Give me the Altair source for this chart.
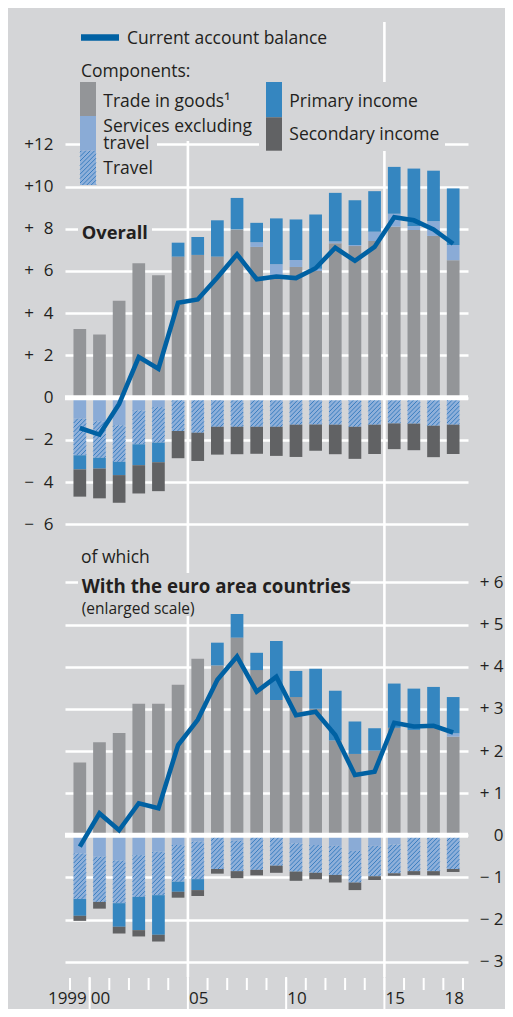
import altair as alt
import numpy as np
import pandas as pd

# ---------------- data (percent of GDP) ----------------
years = list(range(1999, 2019))

# Overall
goods_all = [3.25, 2.99, 4.59, 6.37, 5.80, 6.68, 6.76, 6.68, 7.97, 7.14,
             5.69, 6.19, 6.00, 7.31, 7.18, 7.42, 8.10, 7.94, 7.66, 6.51]
services_all = [-1.00, -1.12, -1.31, -0.61, -0.45, 0.0, 0.0, 0.0, 0.0, 0.22,
                0.63, 0.33, 0.10, 0.09, 0.05, 0.44, 0.61, 0.19, 0.70, 0.72]
travel_all = [-1.73, -1.73, -1.73, -1.60, -1.68, -1.58, -1.66, -1.38, -1.38, -1.38,
              -1.38, -1.28, -1.27, -1.28, -1.38, -1.28, -1.22, -1.23, -1.33, -1.28]
primary_all = [-0.67, -0.51, -0.63, -0.99, -0.93, 0.66, 0.85, 1.72, 1.49, 0.92,
               2.17, 1.92, 2.58, 2.30, 2.12, 1.92, 2.22, 2.72, 2.39, 2.68]
secondary_all = [-1.29, -1.41, -1.31, -1.34, -1.37, -1.29, -1.34, -1.32, -1.30, -1.28,
                 -1.38, -1.53, -1.25, -1.40, -1.52, -1.39, -1.22, -1.26, -1.49, -1.39]
balance_all = [-1.44, -1.75, -0.30, 1.92, 1.37, 4.49, 4.65, 5.69, 6.79, 5.61,
               5.74, 5.66, 6.13, 7.10, 6.48, 7.14, 8.55, 8.40, 7.97, 7.29]

# With the euro area countries
goods_ea = [1.73, 2.21, 2.43, 3.12, 3.12, 3.57, 4.19, 4.03, 4.69, 3.92,
            3.21, 3.28, 3.00, 2.25, 1.93, 2.01, 2.55, 2.50, 2.55, 2.34]
services_ea = [-0.43, -0.51, -0.60, -0.47, -0.39, -0.23, -0.15, 0.0, -0.13, 0.0,
               0.0, -0.19, -0.23, -0.25, -0.37, -0.25, -0.22, 0.0, 0.0, 0.08]
travel_ea = [-1.08, -1.07, -1.01, -0.99, -1.03, -0.87, -0.89, -0.80, -0.72, -0.82,
             -0.72, -0.67, -0.66, -0.69, -0.75, -0.72, -0.68, -0.85, -0.85, -0.80]
primary_ea = [-0.40, 0.0, -0.56, -0.79, -0.94, -0.24, -0.26, 0.54, 0.56, 0.41,
              1.40, 0.62, 0.95, 1.18, 0.77, 0.53, 1.05, 0.98, 0.97, 0.86]
secondary_ea = [-0.12, -0.16, -0.16, -0.15, -0.16, -0.14, -0.14, -0.11, -0.17, -0.13,
                -0.17, -0.22, -0.15, -0.18, -0.18, -0.09, -0.06, -0.09, -0.10, -0.07]
balance_ea = [-0.27, 0.52, 0.12, 0.76, 0.64, 2.14, 2.74, 3.69, 4.24, 3.41,
              3.76, 2.85, 2.93, 2.38, 1.43, 1.51, 2.67, 2.58, 2.60, 2.44]

label_years = [1999, 2000, 2005, 2010, 2015, 2018]
label_text = ["1999", "00", "05", "10", "15", "18"]
long_tick_years = [2000, 2005, 2010, 2015]
grid_years = [2005, 2015]

comp_keys = ["goods", "services", "travel", "primary", "secondary"]

# ---------------- style ----------------
FONT = "Open Sans"
BG = "#d4d5d7"
TXT = "#231f20"
GOODS = "#939598"
SERV = "#8aabd6"
TRAVEL_BG = "#8fb0da"
HATCH = "#3a7ec0"
PRIMARY = "#3586c0"
SECOND = "#616264"
LINE = "#0061a3"
comp_colors = [GOODS, SERV, TRAVEL_BG, PRIMARY, SECOND]

W, H = 403, 955
X_DOMAIN = [years[0] - 0.5, years[-1] + 0.5]
UP_DOMAIN, UP_RANGE = [-6, 12], [502.3, 122.3]
LO_DOMAIN, LO_RANGE = [-3, 6], [939.75, 560.4]
BAR_W = 12.7
HATCH_STEP = 4.4

SX = W / (X_DOMAIN[1] - X_DOMAIN[0])


def px_x(v):
    return (v - X_DOMAIN[0]) * SX


def inv_x(p):
    return X_DOMAIN[0] + p / SX


def y_maps(domain, rng):
    k = (rng[0] - rng[1]) / (domain[1] - domain[0])
    return (lambda v: rng[1] + (domain[1] - v) * k), (lambda p: domain[1] - (p - rng[1]) / k)


def hatch_segments(xl, xr, yt, yb, step=HATCH_STEP):
    segs = []
    c = np.floor((xl + yt) / step) * step
    while c < xr + yb:
        xs = max(xl, c - yb)
        xe = min(xr, c - yt)
        if xe - xs > 0.2:
            segs.append((xs, c - xs, xe, c - xe))
        c += step
    return segs


def stack(values):
    rows = []
    for i, yr in enumerate(years):
        pos = neg = 0.0
        for key, arr in zip(comp_keys, values):
            v = arr[i]
            if v == 0:
                continue
            if v > 0:
                y0, y1 = pos, pos + v
                pos = y1
            else:
                y0, y1 = neg, neg + v
                neg = y1
            rows.append(dict(year=yr, comp=key, y0=y0, y1=y1))
    return pd.DataFrame(rows)


def hatch_df(sdf, domain, rng):
    to_px, to_v = y_maps(domain, rng)
    rows = []
    for _, r in sdf[sdf.comp == "travel"].iterrows():
        xl = px_x(r.year) - BAR_W / 2
        xr = xl + BAR_W
        yt = to_px(max(r.y0, r.y1))
        yb = to_px(min(r.y0, r.y1))
        for xs, ys, xe, ye in hatch_segments(xl, xr, yt, yb):
            rows.append(dict(hx0=inv_x(xs), hy0=to_v(ys), hx1=inv_x(xe), hy1=to_v(ye)))
    return pd.DataFrame(rows)


one = pd.DataFrame({"k": [0]})
xscale = alt.Scale(domain=X_DOMAIN, nice=False, zero=False)


def rect(x1, y1, x2, y2, color):
    return alt.Chart(one).mark_rect(color=color).encode(
        x=alt.value(x1), x2=alt.value(x2), y=alt.value(y1), y2=alt.value(y2))


def text(x, y, s, size=17.5, weight="normal", color=TXT, line_height=None):
    kw = dict(text=s, align="left", baseline="alphabetic", fontSize=size,
              fontWeight=weight, font=FONT, color=color)
    if line_height is not None:
        kw["lineHeight"] = line_height
    return alt.Chart(one).mark_text(**kw).encode(x=alt.value(x), y=alt.value(y))


def panel(values, balance, domain, rng, axis):
    yscale = alt.Scale(domain=domain, range=rng, nice=False, zero=False)
    sdf = stack(values)
    bars = alt.Chart(sdf).mark_bar(size=BAR_W).encode(
        x=alt.X("year:Q", scale=xscale, axis=None),
        y=alt.Y("y0:Q", scale=yscale, axis=axis),
        y2="y1:Q",
        color=alt.Color("comp:N", scale=alt.Scale(domain=comp_keys, range=comp_colors), legend=None),
    )
    hatch = alt.Chart(hatch_df(sdf, domain, rng)).mark_rule(color=HATCH, strokeWidth=1).encode(
        x=alt.X("hx0:Q", scale=xscale, axis=None), x2="hx1:Q",
        y=alt.Y("hy0:Q", scale=yscale, axis=None), y2="hy1:Q")
    zero = alt.Chart(one).mark_rule(color="white", strokeWidth=5).encode(
        y=alt.Y(datum=0, scale=yscale, axis=None), x=alt.value(0), x2=alt.value(W))
    line = alt.Chart(pd.DataFrame({"year": years, "bal": balance})).mark_line(
        color=LINE, strokeWidth=4.6, strokeJoin="miter").encode(
        x=alt.X("year:Q", scale=xscale, axis=None),
        y=alt.Y("bal:Q", scale=yscale, axis=None))
    return [bars, hatch, zero, line]


common_axis = dict(grid=True, gridColor="white", gridWidth=2.6, domain=False, ticks=False,
                   labelFont=FONT, labelFontSize=17, labelColor=TXT, title=None)
axis_up = alt.Axis(orient="left", values=list(range(-6, 13, 2)), labelPadding=12,
                   labelExpr="datum.value > 0 ? '+' + (datum.value < 10 ? '\u2007' : '') + datum.value : "
                             "(datum.value < 0 ? '\u2212\u2007' + abs(datum.value) : '0')",
                   **common_axis)
axis_lo = alt.Axis(orient="right", values=list(range(-3, 7)), labelPadding=35, labelAlign="right",
                   labelExpr="datum.value > 0 ? '+ ' + datum.value : "
                             "(datum.value < 0 ? '\u2212 ' + abs(datum.value) : '0')",
                   **common_axis)

# vertical grid lines and x ticks / labels
vgrid = alt.Chart(pd.DataFrame({"year": grid_years})).transform_calculate(b="datum.year - 0.5").mark_rule(
    color="white", strokeWidth=2.6).encode(x=alt.X("b:Q", scale=xscale, axis=None),
                                           y=alt.value(0), y2=alt.value(H))
bounds = pd.DataFrame({"year": years + [years[-1] + 1]})
short_ticks = alt.Chart(bounds).transform_calculate(b="datum.year - 0.5").mark_rule(
    color="white", strokeWidth=2).encode(x=alt.X("b:Q", scale=xscale, axis=None),
                                         y=alt.value(956), y2=alt.value(968))
long_ticks = alt.Chart(pd.DataFrame({"year": long_tick_years})).transform_calculate(
    b="datum.year - 0.5").mark_rule(color="white", strokeWidth=2).encode(
    x=alt.X("b:Q", scale=xscale, axis=None), y=alt.value(955), y2=alt.value(987))
lab_df = pd.DataFrame({"year": label_years, "lab": label_text})
XLAB_Y = 982
xlab_first = alt.Chart(lab_df.iloc[:1]).mark_text(
    align="right", baseline="alphabetic", dx=7, fontSize=17, font=FONT, color=TXT).encode(
    x=alt.X("year:Q", scale=xscale, axis=None), y=alt.value(XLAB_Y), text="lab:N")
xlab_rest = alt.Chart(lab_df.iloc[1:]).mark_text(
    align="center", baseline="alphabetic", dx=1, fontSize=17, font=FONT, color=TXT).encode(
    x=alt.X("year:Q", scale=xscale, axis=None), y=alt.value(XLAB_Y), text="lab:N")

# legend travel swatch hatch (pixel space)
sw_segs = hatch_segments(15, 31, 128.7, 163)
sw_df = pd.DataFrame(sw_segs, columns=["a", "b", "c", "d"])
sw_hatch = alt.Chart(sw_df).mark_rule(color=HATCH, strokeWidth=1).encode(
    x=alt.X("a:Q", scale=None, axis=None), y=alt.Y("b:Q", scale=None, axis=None),
    x2="c:Q", y2="d:Q")

legend = [
    rect(10, 0, 193, 119, BG), rect(31, 114, 92, 130, BG), rect(194, 60, 380, 129, BG),
    rect(13, 197, 87, 221, BG), rect(13, 551, 286, 594, BG),
    alt.Chart(one).mark_rule(color=LINE, strokeWidth=6.3).encode(
        x=alt.value(16), x2=alt.value(54), y=alt.value(15.5)),
    text(62, 22.3, "Current account balance"),
    text(16, 55.3, "Components:"),
    rect(15, 60, 31, 94, GOODS), rect(15, 94, 31, 128.7, SERV), rect(15, 128.7, 31, 163, TRAVEL_BG),
    sw_hatch,
    text(38.3, 84.7, "Trade in goods\u00b9"),
    text(38.3, 110.3, ["Services excluding", "travel"], line_height=17),
    text(38.3, 152.3, "Travel"),
    rect(201, 60, 217, 95.3, PRIMARY), rect(201, 95.3, 217, 128.7, SECOND),
    text(224.3, 84.7, "Primary income"),
    text(224.3, 118, "Secondary income"),
    text(16.7, 217, "Overall", size=18.3, weight="bold"),
    text(16, 541, "of which"),
    text(16.7, 570.7, "With the euro area countries", size=18.7, weight="bold"),
    text(16.7, 591.5, "(enlarged scale)", size=15.5),
]

layers = ([vgrid] + legend
          + panel([goods_all, services_all, travel_all, primary_all, secondary_all],
                  balance_all, UP_DOMAIN, UP_RANGE, axis_up)
          + panel([goods_ea, services_ea, travel_ea, primary_ea, secondary_ea],
                  balance_ea, LO_DOMAIN, LO_RANGE, axis_lo)
          + [short_ticks, long_ticks, xlab_first, xlab_rest])

chart = alt.layer(*layers).resolve_scale(y="independent").properties(
    width=W, height=H,
    autosize=alt.AutoSizeParams(type="none"),
    padding={"left": 57, "top": 14, "right": 37, "bottom": 32},
    background=BG,
).configure_view(stroke=None)

chart.save("out.html", embed_options={"renderer": "svg", "actions": False})
